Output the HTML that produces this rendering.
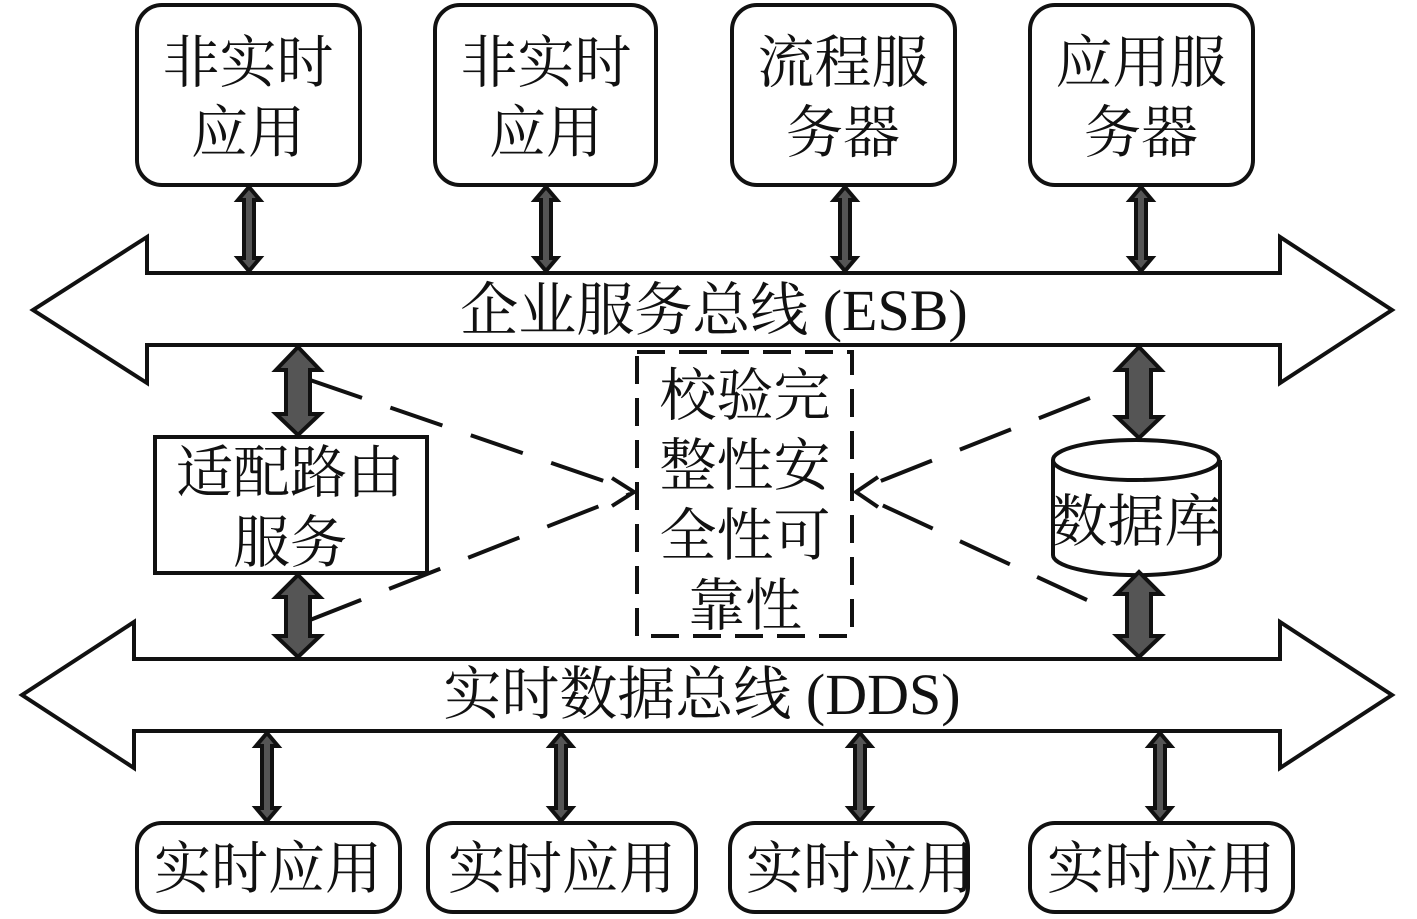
<!DOCTYPE html>
<html><head><meta charset="utf-8"><style>body{margin:0;background:#fff}svg{display:block}text{font-family:"Liberation Serif","Noto Serif CJK SC","Noto Sans CJK SC",serif;fill:#111}</style></head><body>
<svg width="1417" height="919" viewBox="0 0 1417 919" xmlns="http://www.w3.org/2000/svg">
<g fill="#fff" stroke="#111" stroke-width="4">
<path d="M147,273 L1280,273 L1280,237 L1392,310 L1280,383 L1280,345 L147,345 L147,383 L33,310 L147,237 Z"/>
<path d="M134,659 L1280,659 L1280,622 L1392,695 L1280,768 L1280,731 L134,731 L134,768 L22,695 L134,622 Z"/>
<rect x="137" y="5" width="223" height="180" rx="25"/>
<rect x="435" y="5" width="221" height="180" rx="25"/>
<rect x="732" y="5" width="223" height="180" rx="25"/>
<rect x="1030" y="5" width="223" height="180" rx="25"/>
<rect x="137" y="823" width="263" height="89" rx="25"/>
<rect x="428" y="823" width="268" height="89" rx="25"/>
<rect x="730" y="823" width="238" height="89" rx="25"/>
<rect x="1030" y="823" width="263" height="89" rx="25"/>
<rect x="155" y="437" width="272" height="136"/>
<path d="M1053,460 L1053,555 A83,20 0 0 0 1220,555 L1220,460"/>
<ellipse cx="1136" cy="460" rx="83" ry="20"/>
</g>
<rect x="637" y="352" width="215" height="284" fill="none" stroke="#111" stroke-width="4" stroke-dasharray="28,14"/>
<g stroke="#111" stroke-width="4" fill="none" stroke-dasharray="55,30">
<path d="M310,380 L630,490"/><path d="M310,620 L630,494"/>
<path d="M1090,398 L858,490"/><path d="M1087,600 L858,494"/>
</g>
<g stroke="#111" stroke-width="4" fill="none">
<path d="M612,478 L634,492 L612,506"/>
<path d="M878,477 L856,492 L878,507"/>
</g>
<g fill="#555" stroke="#111" stroke-width="4" stroke-linejoin="miter">
<path d="M249,187 L260,200 L254,200 L254,258 L260,258 L249,271 L238,258 L244,258 L244,200 L238,200 Z"/>
<path d="M546,187 L557,200 L551,200 L551,258 L557,258 L546,271 L535,258 L541,258 L541,200 L535,200 Z"/>
<path d="M845,187 L856,200 L850,200 L850,258 L856,258 L845,271 L834,258 L840,258 L840,200 L834,200 Z"/>
<path d="M1141,187 L1152,200 L1146,200 L1146,258 L1152,258 L1141,271 L1130,258 L1136,258 L1136,200 L1130,200 Z"/>
<path d="M267,733 L278,746 L272,746 L272,808 L278,808 L267,821 L256,808 L262,808 L262,746 L256,746 Z"/>
<path d="M561,733 L572,746 L566,746 L566,808 L572,808 L561,821 L550,808 L556,808 L556,746 L550,746 Z"/>
<path d="M860,733 L871,746 L865,746 L865,808 L871,808 L860,821 L849,808 L855,808 L855,746 L849,746 Z"/>
<path d="M1160,733 L1171,746 L1165,746 L1165,808 L1171,808 L1160,821 L1149,808 L1155,808 L1155,746 L1149,746 Z"/>
<path d="M298,347 L320,370 L310,370 L310,414 L320,414 L298,435 L276,414 L286,414 L286,370 L276,370 Z"/>
<path d="M298,575 L320,597 L310,597 L310,636 L320,636 L298,657 L276,636 L286,636 L286,597 L276,597 Z"/>
<path d="M1139,347 L1161,370 L1151,370 L1151,417 L1161,417 L1139,438 L1117,417 L1127,417 L1127,370 L1117,370 Z"/>
<path d="M1139,572 L1161,594 L1151,594 L1151,636 L1161,636 L1139,657 L1117,636 L1127,636 L1127,594 L1117,594 Z"/>
</g>
<g font-size="57" text-anchor="middle">
<text x="248" y="82">非实时</text><text x="248" y="152">应用</text>
<text x="546" y="82">非实时</text><text x="546" y="152">应用</text>
<text x="843" y="82">流程服</text><text x="843" y="152">务器</text>
<text x="1141" y="82">应用服</text><text x="1141" y="152">务器</text>
<text x="268" y="888">实时应用</text><text x="562" y="888">实时应用</text>
<text x="860" y="888">实时应用</text><text x="1161" y="888">实时应用</text>
<text x="290" y="492">适配路由</text><text x="290" y="562">服务</text>
<text x="1136" y="541">数据库</text>
<text x="745" y="415">校验完</text><text x="745" y="485">整性安</text>
<text x="745" y="555">全性可</text><text x="745" y="625">靠性</text>
</g>
<g font-size="58" text-anchor="middle">
<text x="714" y="330">企业服务总线 (ESB)</text>
<text x="702" y="714">实时数据总线 (DDS)</text>
</g>
</svg>
</body></html>
